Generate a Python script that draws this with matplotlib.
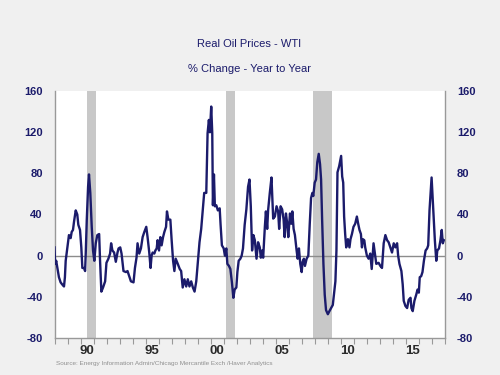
# -*- coding: utf-8 -*-
# Real Oil Prices - WTI, % change year to year

import matplotlib
matplotlib.use('Agg')
import matplotlib.pyplot as plt

plt.rcParams['font.family'] = ['Liberation Sans', 'DejaVu Sans']

# date (decimal year) and year-over-year % change
dates = [1988.00, 1988.04, 1988.08, 1988.13, 1988.21, 1988.34, 1988.47, 1988.59, 1988.73, 1988.80,
         1988.86, 1988.98, 1989.11, 1989.24, 1989.32, 1989.42, 1989.50, 1989.63, 1989.75, 1989.83,
         1989.96, 1990.06, 1990.14, 1990.27, 1990.35, 1990.40, 1990.48, 1990.58, 1990.65, 1990.75,
         1990.86, 1990.96, 1991.06, 1991.17, 1991.29, 1991.43, 1991.50, 1991.60, 1991.73, 1991.89,
         1991.99, 1992.14, 1992.27, 1992.35, 1992.45, 1992.58, 1992.71, 1992.84, 1992.92, 1993.05,
         1993.15, 1993.30, 1993.49, 1993.61, 1993.74, 1993.87, 1994.07, 1994.18, 1994.30, 1994.38,
         1994.51, 1994.64, 1994.77, 1994.90, 1995.05, 1995.15, 1995.28, 1995.38, 1995.46, 1995.54,
         1995.67, 1995.75, 1995.85, 1995.92, 1996.03, 1996.13, 1996.23, 1996.34, 1996.44, 1996.57,
         1996.64, 1996.75, 1996.90, 1997.00, 1997.11, 1997.21, 1997.31, 1997.47, 1997.62, 1997.73,
         1997.85, 1997.98, 1998.12, 1998.24, 1998.37, 1998.50, 1998.63, 1998.76, 1998.89, 1999.01,
         1999.14, 1999.27, 1999.40, 1999.50, 1999.66, 1999.76, 1999.86, 1999.94, 2000.04, 2000.12,
         2000.17, 2000.25, 2000.32, 2000.43, 2000.55, 2000.69, 2000.76, 2000.86, 2001.00, 2001.09,
         2001.20, 2001.28, 2001.40, 2001.51, 2001.63, 2001.74, 2001.84, 2001.97, 2002.05, 2002.15,
         2002.28, 2002.38, 2002.48, 2002.61, 2002.74, 2002.87, 2002.98, 2003.08, 2003.18, 2003.28,
         2003.39, 2003.52, 2003.64, 2003.77, 2003.85, 2003.95, 2004.03, 2004.16, 2004.24, 2004.34,
         2004.41, 2004.54, 2004.67, 2004.80, 2004.93, 2005.06, 2005.18, 2005.26, 2005.37, 2005.49,
         2005.60, 2005.68, 2005.78, 2005.88, 2005.96, 2006.09, 2006.19, 2006.27, 2006.37, 2006.47,
         2006.60, 2006.68, 2006.78, 2006.88, 2006.99, 2007.06, 2007.16, 2007.24, 2007.37, 2007.50,
         2007.61, 2007.71, 2007.81, 2007.88, 2007.99, 2008.09, 2008.19, 2008.30, 2008.40, 2008.48,
         2008.56, 2008.66, 2008.76, 2008.86, 2009.00, 2009.12, 2009.25, 2009.38, 2009.48, 2009.58,
         2009.66, 2009.74, 2009.87, 2010.02, 2010.10, 2010.18, 2010.25, 2010.33, 2010.41, 2010.54,
         2010.66, 2010.74, 2010.85, 2010.97, 2011.10, 2011.23, 2011.33, 2011.43, 2011.54, 2011.62,
         2011.69, 2011.80, 2011.87, 2012.00, 2012.13, 2012.26, 2012.37, 2012.44, 2012.51, 2012.64,
         2012.72, 2012.90, 2013.03, 2013.16, 2013.29, 2013.42, 2013.55, 2013.67, 2013.80, 2013.93,
         2014.06, 2014.19, 2014.32, 2014.40, 2014.50, 2014.65, 2014.75, 2014.83, 2014.96, 2015.09,
         2015.21, 2015.35, 2015.42, 2015.52, 2015.65, 2015.79, 2015.89, 2015.99, 2016.06, 2016.17,
         2016.27, 2016.38, 2016.51, 2016.63, 2016.71, 2016.81, 2016.97, 2017.07, 2017.15, 2017.22,
         2017.33, 2017.41, 2017.54, 2017.65, 2017.75, 2017.83, 2017.91]
pct_change = [8, -5, -8, -5, -11, -21, -26, -28, -30, -21,
              -5, 7, 20, 17, 23, 25, 33, 44, 40, 30,
              25, 8, -12, -12, -15, 2, 35, 67, 79, 61,
              28, 5, -5, 12, 20, 21, -5, -35, -31, -25,
              -7, -3, 2, 12, 5, 3, -6, 3, 7, 8,
              2, -15, -16, -15, -20, -25, -26, -12, -2, 12,
              2, 7, 18, 23, 28, 18, 3, -12, 0, 3,
              2, 5, 7, 15, 5, 18, 10, 18, 23, 28,
              43, 35, 35, 15, -5, -15, -3, -8, -13, -15,
              -31, -23, -30, -23, -30, -25, -31, -35, -25, -7,
              13, 26, 46, 61, 61, 119, 132, 120, 145, 119,
              49, 79, 48, 49, 44, 46, 30, 10, 7, 0,
              7, -8, -10, -13, -26, -41, -33, -31, -16, -5,
              -3, 0, 7, 30, 45, 67, 74, 48, 5, 20,
              15, -3, 13, 8, -2, 5, -2, 28, 43, 26,
              44, 61, 76, 36, 38, 48, 43, 26, 48, 45,
              35, 18, 41, 31, 18, 41, 31, 43, 26, 20,
              5, -3, 7, -8, -16, -6, -3, -10, -3, 0,
              31, 56, 61, 58, 71, 74, 91, 99, 89, 74,
              35, -8, -38, -53, -57, -54, -51, -48, -36, -25,
              5, 81, 87, 97, 77, 71, 38, 21, 8, 16,
              8, 16, 21, 28, 31, 38, 31, 25, 21, 8,
              16, 15, 8, 0, -3, 2, -13, 0, 12, 0,
              -8, -7, -10, -12, 12, 20, 15, 13, 8, 3,
              12, 8, 12, 0, -8, -15, -28, -44, -49, -51,
              -43, -41, -51, -54, -44, -38, -33, -36, -21, -20,
              -16, -5, 5, 7, 10, 44, 76, 51, 31, 15,
              -5, 5, 7, 15, 25, 12, 15]

# recessions (start, end)
recessions = [(1990.5, 1991.17), (2001.17, 2001.83), (2007.85, 2009.35)]

year_labels = ['90', '95', '00', '05', '10', '15']
label_years = [1990, 1995, 2000, 2005, 2010, 2015]
y_ticks = [-80, -40, 0, 40, 80, 120, 160]

navy = '#1b1b6b'
bg = '#f0f0f0'

fig = plt.figure(figsize=(5, 3.75), dpi=100, facecolor=bg)
ax = fig.add_axes([0.109, 0.099, 0.781, 0.658])
ax.set_facecolor('white')

for start, end in recessions:
    ax.axvspan(start, end, color='#c8c8c8', lw=0, zorder=1)

ax.axhline(0, color='#8c8c8c', lw=1.0, zorder=2)
ax.plot(dates, pct_change, color=navy, lw=1.7, zorder=3)

ax.set_xlim(1988, 2018)
ax.set_ylim(-80, 160)

ax.set_yticks(y_ticks)
ax.set_yticklabels([str(v) for v in y_ticks])
ax.tick_params(axis='y', left=False, right=False, labelleft=True, labelright=True,
               labelsize=8, labelcolor=navy, pad=5)
for lbl in ax.get_yticklabels():
    lbl.set_fontweight('bold')

ax.set_xticks([y + 0.5 for y in label_years])
ax.set_xticklabels(year_labels, fontsize=9.5, fontweight='bold', color='#2a2a2a')
ax.set_xticks(list(range(1988, 2019)), minor=True)
ax.tick_params(axis='x', which='major', length=0, pad=5)
ax.tick_params(axis='x', which='minor', length=4, color='#999999', width=0.8, direction='out')

ax.spines['top'].set_visible(False)
for side in ['left', 'right', 'bottom']:
    ax.spines[side].set_color('#999999')
    ax.spines[side].set_linewidth(1.0)

fig.text(0.498, 0.883, 'Real Oil Prices - WTI', ha='center', va='center', fontsize=8, color=navy)
fig.text(0.498, 0.815, '% Change - Year to Year', ha='center', va='center', fontsize=8, color=navy)
fig.text(0.112, 0.031, 'Source: Energy Information Admin/Chicago Mercantile Exch /Haver Analytics',
         ha='left', va='center', fontsize=4.6, color='#909090')

fig.savefig('out.png', dpi=100, facecolor=bg)
print('done')
